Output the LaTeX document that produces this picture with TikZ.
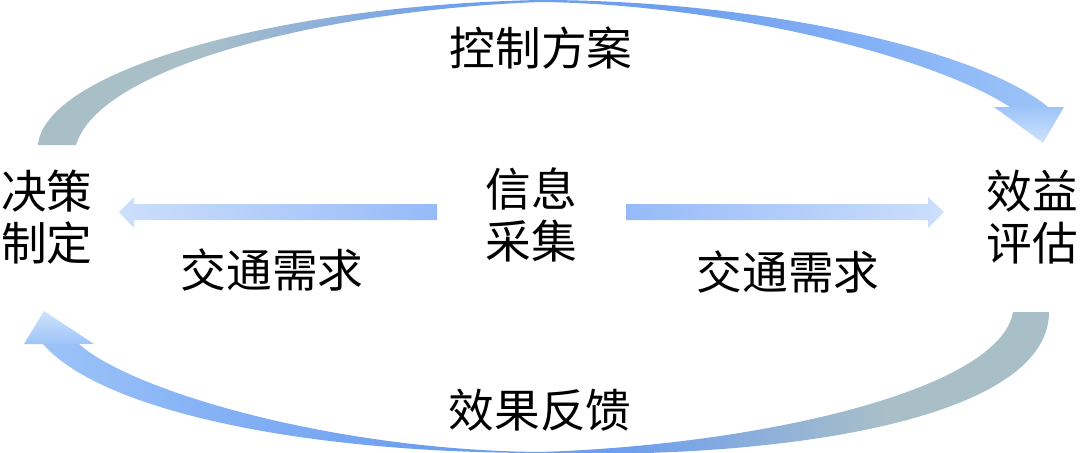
\documentclass[tikz,border=0pt]{standalone}
\usepackage{fontspec}
\newfontfamily\cjk{Noto Sans CJK SC}
\usetikzlibrary{positioning}

\definecolor{arcgrey}{HTML}{A9BFC8}
\definecolor{arcblue}{HTML}{6E9FEE}
\definecolor{arcmid}{HTML}{86B2F6}
\definecolor{arclight}{HTML}{9DC4F8}
\definecolor{headlight}{HTML}{CFE3FC}
\definecolor{barstrong}{HTML}{96BAF8}
\definecolor{barlight}{HTML}{CCDFFB}

\pgfdeclarehorizontalshading{toparc}{100bp}{color(0bp)=(arcgrey); color(25bp)=(arcgrey); color(33bp)=(arcgrey); color(46bp)=(arcblue); color(56bp)=(arcblue); color(67bp)=(arcmid); color(75bp)=(arclight); color(100bp)=(arclight)}
\pgfdeclarehorizontalshading{botarc}{100bp}{color(0bp)=(arclight); color(25bp)=(arclight); color(33bp)=(arcmid); color(44bp)=(arcblue); color(54bp)=(arcblue); color(67bp)=(arcgrey); color(75bp)=(arcgrey); color(100bp)=(arcgrey)}

\begin{document}
\begin{tikzpicture}[x=0.02cm, y=-0.02cm,
  txt/.style={font=\cjk\fontsize{26}{30}\selectfont, align=center, inner sep=0pt},
  barleft/.style={left color=barlight, right color=barstrong},
  barright/.style={left color=barstrong, right color=barlight}]

\useasboundingbox (0,0) rectangle (1080,453);

\node[txt] (decide) at (47,217) {决策\\制定};
\node[txt] (info) at (531,215) {信息\\采集};
\node[txt] (evaluate) at (1032,217) {效益\\评估};
\node[txt] (plan) at (541,48) {控制方案};
\node[txt] (feedback) at (540,410) {效果反馈};
\node[txt] (demandL) at (272,270) {交通需求};
\node[txt] (demandR) at (788,272) {交通需求};

% top arc: decide -> evaluate
\shade[shading=toparc] (38,145) .. controls (45,70) and (280,5) .. (540,0)
  .. controls (760,0) and (980,50) .. (1048,107) -- (1010,107)
  .. controls (930,55) and (720,4) .. (540,2)
  .. controls (330,10) and (100,65) .. (76,145) -- cycle;
\shade[top color=arclight, bottom color=headlight] (994,107) -- (1064,107) -- (1043,143) -- cycle;

% bottom arc: evaluate -> decide
\shade[shading=botarc] (1013,312) -- (1049,312) .. controls (1049,420) and (780,460) .. (540,453)
  .. controls (300,453) and (100,410) .. (43,344) -- (79,344)
  .. controls (130,390) and (330,450) .. (540,452)
  .. controls (760,445) and (1000,390) .. (1013,312) -- cycle;
\shade[top color=headlight, bottom color=arclight] (24,344) -- (94,344) -- (44,311) -- cycle;

% info -> both sides
\shade[barleft] (119,212) -- (134,197) -- (134,204) -- (437,204) -- (437,220) -- (134,220) -- (134,228) -- cycle;
\shade[barright] (944,212) -- (928,197) -- (928,204) -- (626,204) -- (626,220) -- (928,220) -- (928,228) -- cycle;

\end{tikzpicture}
\end{document}
